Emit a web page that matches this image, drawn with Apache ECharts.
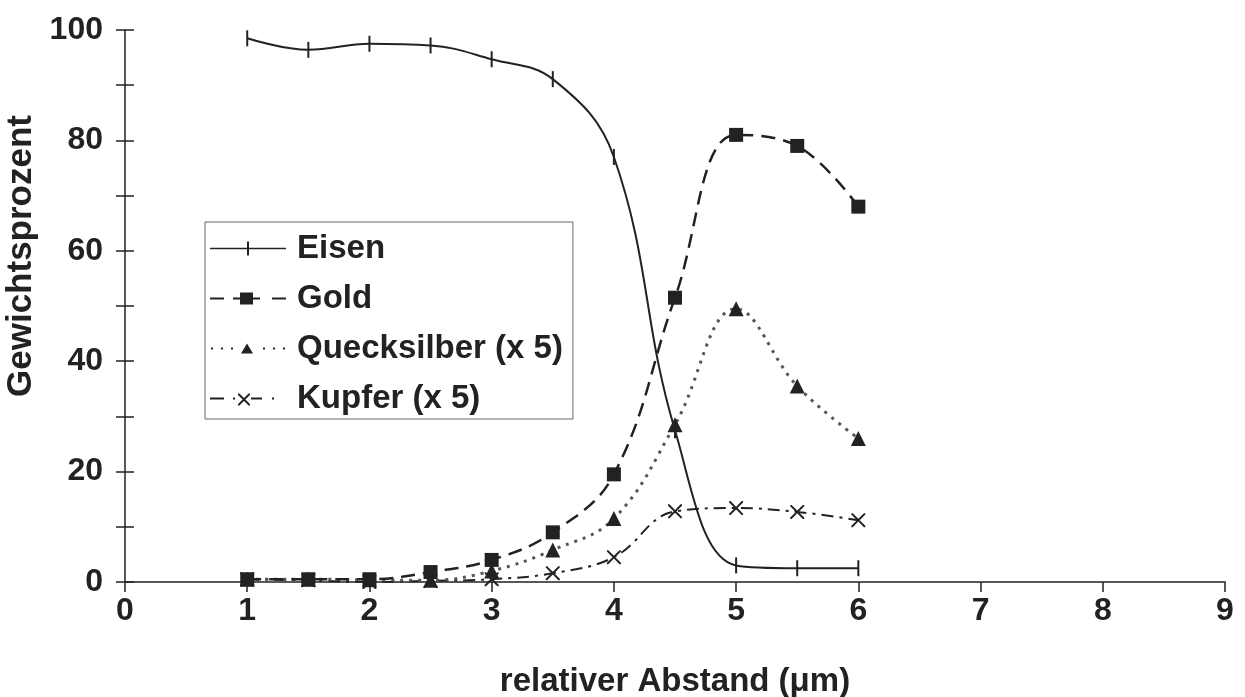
<!DOCTYPE html>
<html>
<head>
<meta charset="utf-8">
<script src="https://cdn.jsdelivr.net/npm/echarts@6/dist/echarts.min.js"></script>
<style>
html,body{margin:0;padding:0;background:#fff;}
#main{width:1245px;height:697px;}
</style>
</head>
<body>
<div id="main"></div>
<script>
const xValues = [1, 1.5, 2, 2.5, 3, 3.5, 4, 4.5, 5, 5.5, 6];
const eisen = [98.5, 96.4, 97.5, 97.2, 94.7, 91.1, 77, 27.5, 3, 2.5, 2.5];
const gold = [0.5, 0.5, 0.5, 1.8, 4, 9, 19.5, 51.5, 81, 79, 68];
const quecksilber = [0.5, 0.5, 0.4, 0.3, 2, 5.8, 11.5, 28.5, 49.5, 35.5, 26];
const kupfer = [0.5, 0.3, 0, 0.2, 0.5, 1.6, 4.5, 12.8, 13.4, 12.7, 11.2];
const seriesNames = ['Eisen', 'Gold', 'Quecksilber (x 5)', 'Kupfer (x 5)'];
const xAxisName = 'relativer Abstand (μm)';
const yAxisName = 'Gewichtsprozent';

const pairs = arr => xValues.map((x, i) => [x, arr[i]]);
const FONT = '"Liberation Sans", Arial, sans-serif';
const INK = '#222';

const X_PATH = 'path://M0,0L2,0L10,8L18,0L20,0L20,2L12,10L20,18L20,20L18,20L10,12L2,20L0,20L0,18L8,10L0,2Z';

// legend icons (line sample + marker), 76 x 16 box
const legendIcons = [
  'path://M0,0L0.01,0L0.01,0.01Z M76,16L75.99,16L75.99,15.99Z M0,7.2L76,7.2L76,8.8L0,8.8Z M37,1L39,1L39,15L37,15Z',
  'path://M0,0L0.01,0L0.01,0.01Z M76,16L75.99,16L75.99,15.99Z M0,7L14,7L14,9L0,9Z M23,7L30,7L30,9L23,9Z M30,2L43,2L43,14L30,14Z M43,7L50,7L50,9L43,9Z M62,7L76,7L76,9L62,9Z',
  'path://M0,0L0.01,0L0.01,0.01Z M76,16L75.99,16L75.99,15.99Z M1,7L3,7L3,9L1,9Z M11,7L13,7L13,9L11,9Z M21,7L23,7L23,9L21,9Z M37,3L43,13L31,13Z M53,7L55,7L55,9L53,9Z M63,7L65,7L65,9L63,9Z M73,7L75,7L75,9L73,9Z',
  'path://M0,0L0.01,0L0.01,0.01Z M76,16L75.99,16L75.99,15.99Z M0,7L14,7L14,9L0,9Z M23,7L25,7L25,9L23,9Z M28,3L29.4,3L34,7.6L38.6,3L40,3L40,4.4L35.4,9L40,13.6L40,15L38.6,15L34,10.4L29.4,15L28,15L28,13.6L32.6,9L28,4.4Z M41,7L52,7L52,9L41,9Z M62,7L64,7L64,9L62,9Z'
];

const chart = echarts.init(document.getElementById('main'), null, {renderer: 'canvas'});
chart.setOption({
  backgroundColor: '#fff',
  animation: false,
  textStyle: {fontFamily: FONT, color: INK},
  grid: {left: 125, right: 20, top: 30, bottom: 115, outerBoundsMode: 'none', containLabel: false},
  legend: {
    orient: 'vertical',
    left: 205, top: 222,
    padding: [10, 10, 4, 5],
    backgroundColor: '#fff',
    borderColor: '#666', borderWidth: 1,
    itemWidth: 76, itemHeight: 16, itemGap: 17,
    symbolKeepAspect: true,
    textStyle: {fontFamily: FONT, fontWeight: 'bold', fontSize: 33, color: INK, padding: [0, 0, 0, 6]},
    data: seriesNames.map((n, i) => ({name: n, icon: legendIcons[i], itemStyle: {color: INK}}))
  },
  xAxis: {
    type: 'value', min: 0, max: 9, interval: 1,
    name: xAxisName, nameLocation: 'middle', nameGap: 83,
    nameTextStyle: {fontFamily: FONT, fontWeight: 'bold', fontSize: 33, color: INK},
    axisLine: {lineStyle: {color: INK, width: 1.5}},
    axisTick: {show: true, length: 10, lineStyle: {color: INK, width: 1.5}},
    axisLabel: {fontFamily: FONT, fontWeight: 'bold', fontSize: 32, color: INK, margin: 13},
    splitLine: {show: false}
  },
  yAxis: [{
    type: 'value', min: 0, max: 100, interval: 10, position: 'left',
    name: yAxisName, nameLocation: 'middle', nameGap: 80, nameRotate: 90,
    nameTextStyle: {fontFamily: FONT, fontWeight: 'bold', fontSize: 35, color: INK, padding: [0, 0, 0, 100]},
    axisLine: {show: true, lineStyle: {color: INK, width: 1.5}},
    axisTick: {show: true, length: 9, lineStyle: {color: INK, width: 1.5}},
    axisLabel: {fontFamily: FONT, fontWeight: 'bold', fontSize: 32, color: INK, margin: 22,
      formatter: v => (v % 20 === 0 ? String(v) : '')},
    splitLine: {show: false}
  }, {
    type: 'value', min: 0, max: 100, interval: 10, position: 'left', offset: 0,
    axisLine: {show: false},
    axisTick: {show: true, inside: true, length: 9, lineStyle: {color: INK, width: 1.5}},
    axisLabel: {show: false},
    splitLine: {show: false}
  }],
  series: [
    {
      name: seriesNames[0], type: 'line', smooth: 0.4, data: pairs(eisen), z: 5,
      symbol: 'rect', symbolSize: [2, 16],
      itemStyle: {color: INK},
      lineStyle: {color: INK, width: 2, type: 'solid'}
    },
    {
      name: seriesNames[1], type: 'line', smooth: 0.4, data: pairs(gold), z: 4,
      symbol: 'rect', symbolSize: 14,
      itemStyle: {color: INK},
      lineStyle: {color: INK, width: 2.5, type: [14, 8]}
    },
    {
      name: seriesNames[2], type: 'line', smooth: 0.4, data: pairs(quecksilber), z: 3,
      symbol: 'triangle', symbolSize: 15,
      itemStyle: {color: INK},
      lineStyle: {color: '#555', width: 3, type: [3, 6]}
    },
    {
      name: seriesNames[3], type: 'line', smooth: 0.4, data: pairs(kupfer), z: 2,
      symbol: X_PATH, symbolSize: 14,
      itemStyle: {color: INK},
      lineStyle: {color: INK, width: 2, type: [12, 6, 3, 6]}
    }
  ]
});
</script>
</body>
</html>
